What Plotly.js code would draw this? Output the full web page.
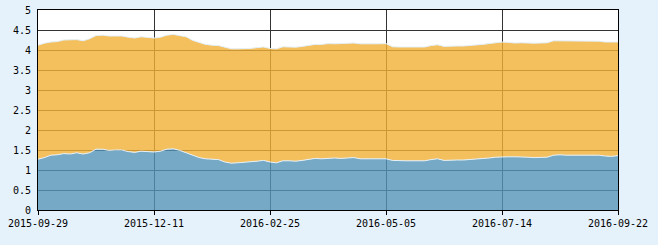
<!DOCTYPE html>
<html>
<head>
<meta charset="utf-8">
<script src="https://cdn.plot.ly/plotly-3.0.1.min.js"></script>
<style>
html,body{margin:0;padding:0;background:#e6f2fb;}
#chart{width:658px;height:245px;}
</style>
</head>
<body>
<div id="chart"></div>
<script>
// Tick labels (dates) placed every 18 sampled points
const tickDates = ['2015-09-29', '2015-12-11', '2016-02-25', '2016-05-05', '2016-07-14', '2016-09-22'];
const tickIndex = [0, 18, 36, 54, 72, 90];

// Lower (blue) series
const blueValues = [
  1.27, 1.31, 1.37, 1.38, 1.41, 1.40, 1.43, 1.40, 1.43, 1.52,
  1.52, 1.49, 1.50, 1.50, 1.46, 1.44, 1.47, 1.46, 1.45, 1.47,
  1.52, 1.53, 1.49, 1.43, 1.36, 1.31, 1.28, 1.27, 1.26, 1.20,
  1.17, 1.18, 1.19, 1.20, 1.22, 1.24, 1.20, 1.18, 1.23, 1.23,
  1.22, 1.24, 1.27, 1.29, 1.28, 1.29, 1.30, 1.29, 1.30, 1.31,
  1.28, 1.28, 1.27, 1.28, 1.28, 1.24, 1.23, 1.23, 1.23, 1.23,
  1.23, 1.26, 1.28, 1.24, 1.25, 1.25, 1.25, 1.26, 1.28, 1.29,
  1.30, 1.32, 1.33, 1.33, 1.33, 1.33, 1.32, 1.31, 1.31, 1.32,
  1.37, 1.38, 1.37, 1.37, 1.37, 1.375, 1.36, 1.37, 1.35, 1.34,
  1.36
];

// Upper (orange) series, stacked on blue
const orangeValues = [
  2.85, 2.86, 2.83, 2.83, 2.84, 2.85, 2.83, 2.83, 2.85, 2.84,
  2.85, 2.86, 2.85, 2.85, 2.86, 2.86, 2.86, 2.85, 2.85, 2.85,
  2.85, 2.86, 2.87, 2.90, 2.88, 2.88, 2.86, 2.85, 2.85, 2.87,
  2.86, 2.85, 2.84, 2.84, 2.84, 2.835, 2.84, 2.85, 2.85, 2.85,
  2.85, 2.85, 2.85, 2.85, 2.86, 2.87, 2.855, 2.87, 2.865, 2.865,
  2.875, 2.875, 2.87, 2.875, 2.88, 2.84, 2.845, 2.845, 2.845, 2.845,
  2.845, 2.85, 2.85, 2.85, 2.85, 2.85, 2.85, 2.85, 2.85, 2.85,
  2.86, 2.86, 2.87, 2.86, 2.845, 2.85, 2.85, 2.86, 2.865, 2.86,
  2.86, 2.85, 2.85, 2.85, 2.85, 2.845, 2.86, 2.85, 2.85, 2.86,
  2.84
];

const yTicks = [0, 0.5, 1, 1.5, 2, 2.5, 3, 3.5, 4, 4.5, 5];
const yTickText = ['0', '0.5', '1', '1.5', '2', '2.5', '3', '3.5', '4', '4.5', '5'];

const xs = blueValues.map((_, i) => i);

const traces = [
  {
    x: xs, y: blueValues, type: 'scatter', mode: 'lines',
    stackgroup: 'one', fill: 'tozeroy',
    fillcolor: 'rgba(83,148,184,0.8)',
    line: {color: '#e4f0fa', width: 1, shape: 'linear'},
    hoverinfo: 'skip'
  },
  {
    x: xs, y: orangeValues, type: 'scatter', mode: 'lines',
    stackgroup: 'one', fill: 'tonexty',
    fillcolor: 'rgba(241,175,53,0.8)',
    line: {color: '#e4f0fa', width: 1, shape: 'linear'},
    hoverinfo: 'skip'
  }
];

const font = {family: '"DejaVu Sans Mono", "Liberation Mono", monospace', size: 10, color: '#000'};

const layout = {
  width: 658, height: 245,
  margin: {l: 38, r: 40, t: 10, b: 35, pad: 0},
  paper_bgcolor: '#e6f2fb',
  plot_bgcolor: '#ffffff',
  showlegend: false,
  font: font,
  xaxis: {
    type: 'linear', range: [0, 90],
    tickmode: 'array', tickvals: tickIndex, ticktext: tickDates,
    ticks: 'outside', ticklen: 4, tickcolor: '#000', tickwidth: 1,
    showgrid: true, gridcolor: '#333333', gridwidth: 1,
    showline: true, linecolor: '#000', linewidth: 1, mirror: true,
    zeroline: false, tickfont: font, fixedrange: true
  },
  yaxis: {
    range: [0, 5],
    tickmode: 'array', tickvals: yTicks, ticktext: yTickText,
    ticks: '', ticklabelstandoff: 4,
    showgrid: true, gridcolor: '#333333', gridwidth: 1,
    showline: true, linecolor: '#000', linewidth: 1, mirror: true,
    zeroline: false, tickfont: font, fixedrange: true
  }
};

Plotly.newPlot('chart', traces, layout, {displayModeBar: false, staticPlot: true});
</script>
</body>
</html>
